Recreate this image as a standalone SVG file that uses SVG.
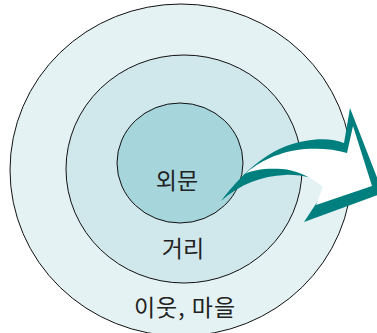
<svg xmlns="http://www.w3.org/2000/svg" width="377" height="333" viewBox="0 0 377 333">
<style>
.ring{stroke:#111;stroke-width:1}
.lbl{font-family:"Noto Sans CJK KR","Noto Sans",sans-serif;font-size:23px;fill:#222;text-anchor:middle}
</style>
<rect width="377" height="333" fill="#ffffff"/>
<g id="outer">
<ellipse class="ring" cx="181" cy="170" rx="171" ry="166" fill="#e4f2f4"/>
<text class="lbl" x="185" y="316" letter-spacing="1">이웃, 마을</text>
</g>
<g id="middle">
<ellipse class="ring" cx="184" cy="169" rx="118" ry="114" fill="#d0e8ec"/>
<text class="lbl" x="183" y="257">거리</text>
</g>
<g id="inner">
<ellipse class="ring" cx="180" cy="163" rx="63" ry="60" fill="#a6d6dc"/>
<text class="lbl" x="177" y="189">외문</text>
</g>
<g id="connectors">
<path fill="#007f7f" d="M221,201 C245,170 270,147 305,141 C320,138 335,139 344,143 L350,108 L383,193 L304,222 L329,184 C318,179 300,174 285,175 C262,176 240,184 221,201 Z"/>
<path fill="#ffffff" d="M245,174 C258,162 280,151 305,149 C320,148 335,149 347,153 L353,126 L372,186 L316,205 L323,187 C310,176 295,170 282,169 C265,168 252,170 245,174 Z"/>
</g>
</svg>
